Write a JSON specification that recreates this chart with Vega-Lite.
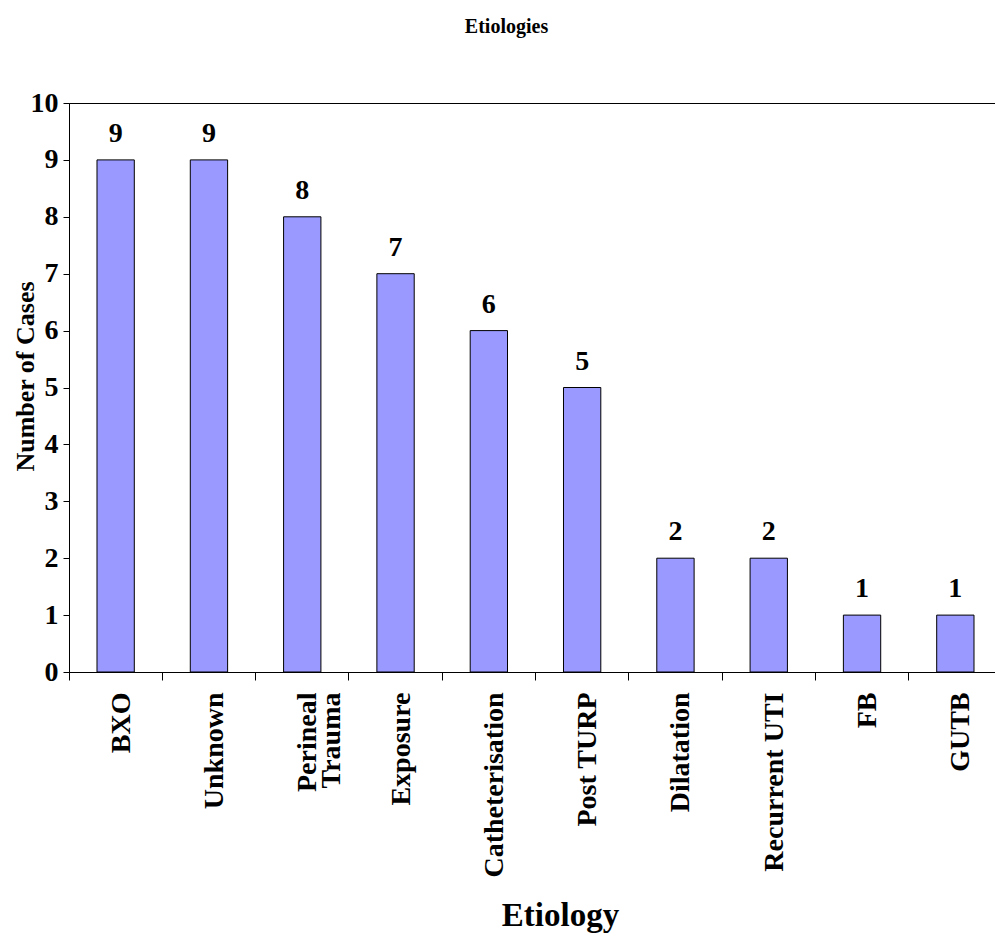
{
  "$schema": "https://vega.github.io/schema/vega-lite/v6.json",
  "autosize": "none",
  "width": 933,
  "height": 569,
  "padding": {"left": 69, "top": 103, "right": 0, "bottom": 264},
  "background": "white",
  "title": {
    "text": "Etiologies",
    "font": "Liberation Serif",
    "fontSize": 20,
    "fontWeight": "bold",
    "color": "black",
    "anchor": "middle",
    "baseline": "alphabetic",
    "offset": 36,
    "dx": -29
  },
  "config": {
    "view": {"stroke": "black", "strokeWidth": 1},
    "font": "Liberation Serif"
  },
  "data": {
    "values": [
      {"Etiology": "BXO", "Cases": 9},
      {"Etiology": "Unknown", "Cases": 9},
      {"Etiology": "Perineal Trauma", "Cases": 8},
      {"Etiology": "Exposure", "Cases": 7},
      {"Etiology": "Catheterisation", "Cases": 6},
      {"Etiology": "Post TURP", "Cases": 5},
      {"Etiology": "Dilatation", "Cases": 2},
      {"Etiology": "Recurrent UTI", "Cases": 2},
      {"Etiology": "FB", "Cases": 1},
      {"Etiology": "GUTB", "Cases": 1}
    ]
  },
  "encoding": {
    "x": {
      "field": "Etiology",
      "type": "nominal",
      "sort": null,
      "scale": {"paddingInner": 0, "paddingOuter": 0},
      "axis": {
        "title": "Etiology",
        "titleFont": "Liberation Serif",
        "titleFontSize": 33,
        "titleFontWeight": "bold",
        "titleColor": "black",
        "titleX": 491,
        "titleY": 253,
        "titleBaseline": "alphabetic",
        "labelFont": "Liberation Serif",
        "labelFontSize": 28,
        "labelFontWeight": "bold",
        "labelColor": "black",
        "labelAngle": -90,
        "labelAlign": "right",
        "labelBaseline": "middle",
        "labelPadding": 12,
        "labelOffset": 6,
        "labelLineHeight": 24,
        "labelLimit": 400,
        "labelExpr": "datum.value == 'Perineal Trauma' ? ['Perineal', 'Trauma'] : datum.value",
        "bandPosition": 0,
        "tickSize": 8,
        "tickColor": "black",
        "domainColor": "black",
        "grid": false,
        "labelOverlap": false
      }
    },
    "y": {
      "field": "Cases",
      "type": "quantitative",
      "scale": {"domain": [0, 10], "nice": false},
      "axis": {
        "title": "Number of Cases",
        "titleFont": "Liberation Serif",
        "titleFontSize": 26,
        "titleFontWeight": "bold",
        "titleColor": "black",
        "titleX": -36,
        "titleY": 273,
        "titleBaseline": "alphabetic",
        "values": [0, 1, 2, 3, 4, 5, 6, 7, 8, 9, 10],
        "labelFont": "Liberation Serif",
        "labelFontSize": 28,
        "labelFontWeight": "bold",
        "labelColor": "black",
        "labelPadding": 5,
        "tickSize": 6,
        "tickColor": "black",
        "domainColor": "black",
        "grid": false
      }
    }
  },
  "layer": [
    {
      "mark": {"type": "bar", "width": {"band": 0.4}, "fill": "#9999FF", "stroke": "black", "strokeWidth": 1}
    },
    {
      "mark": {"type": "text", "font": "Liberation Serif", "fontSize": 28, "fontWeight": "bold", "color": "black", "baseline": "alphabetic", "dy": -18},
      "encoding": {"text": {"field": "Cases", "type": "quantitative"}}
    }
  ]
}
